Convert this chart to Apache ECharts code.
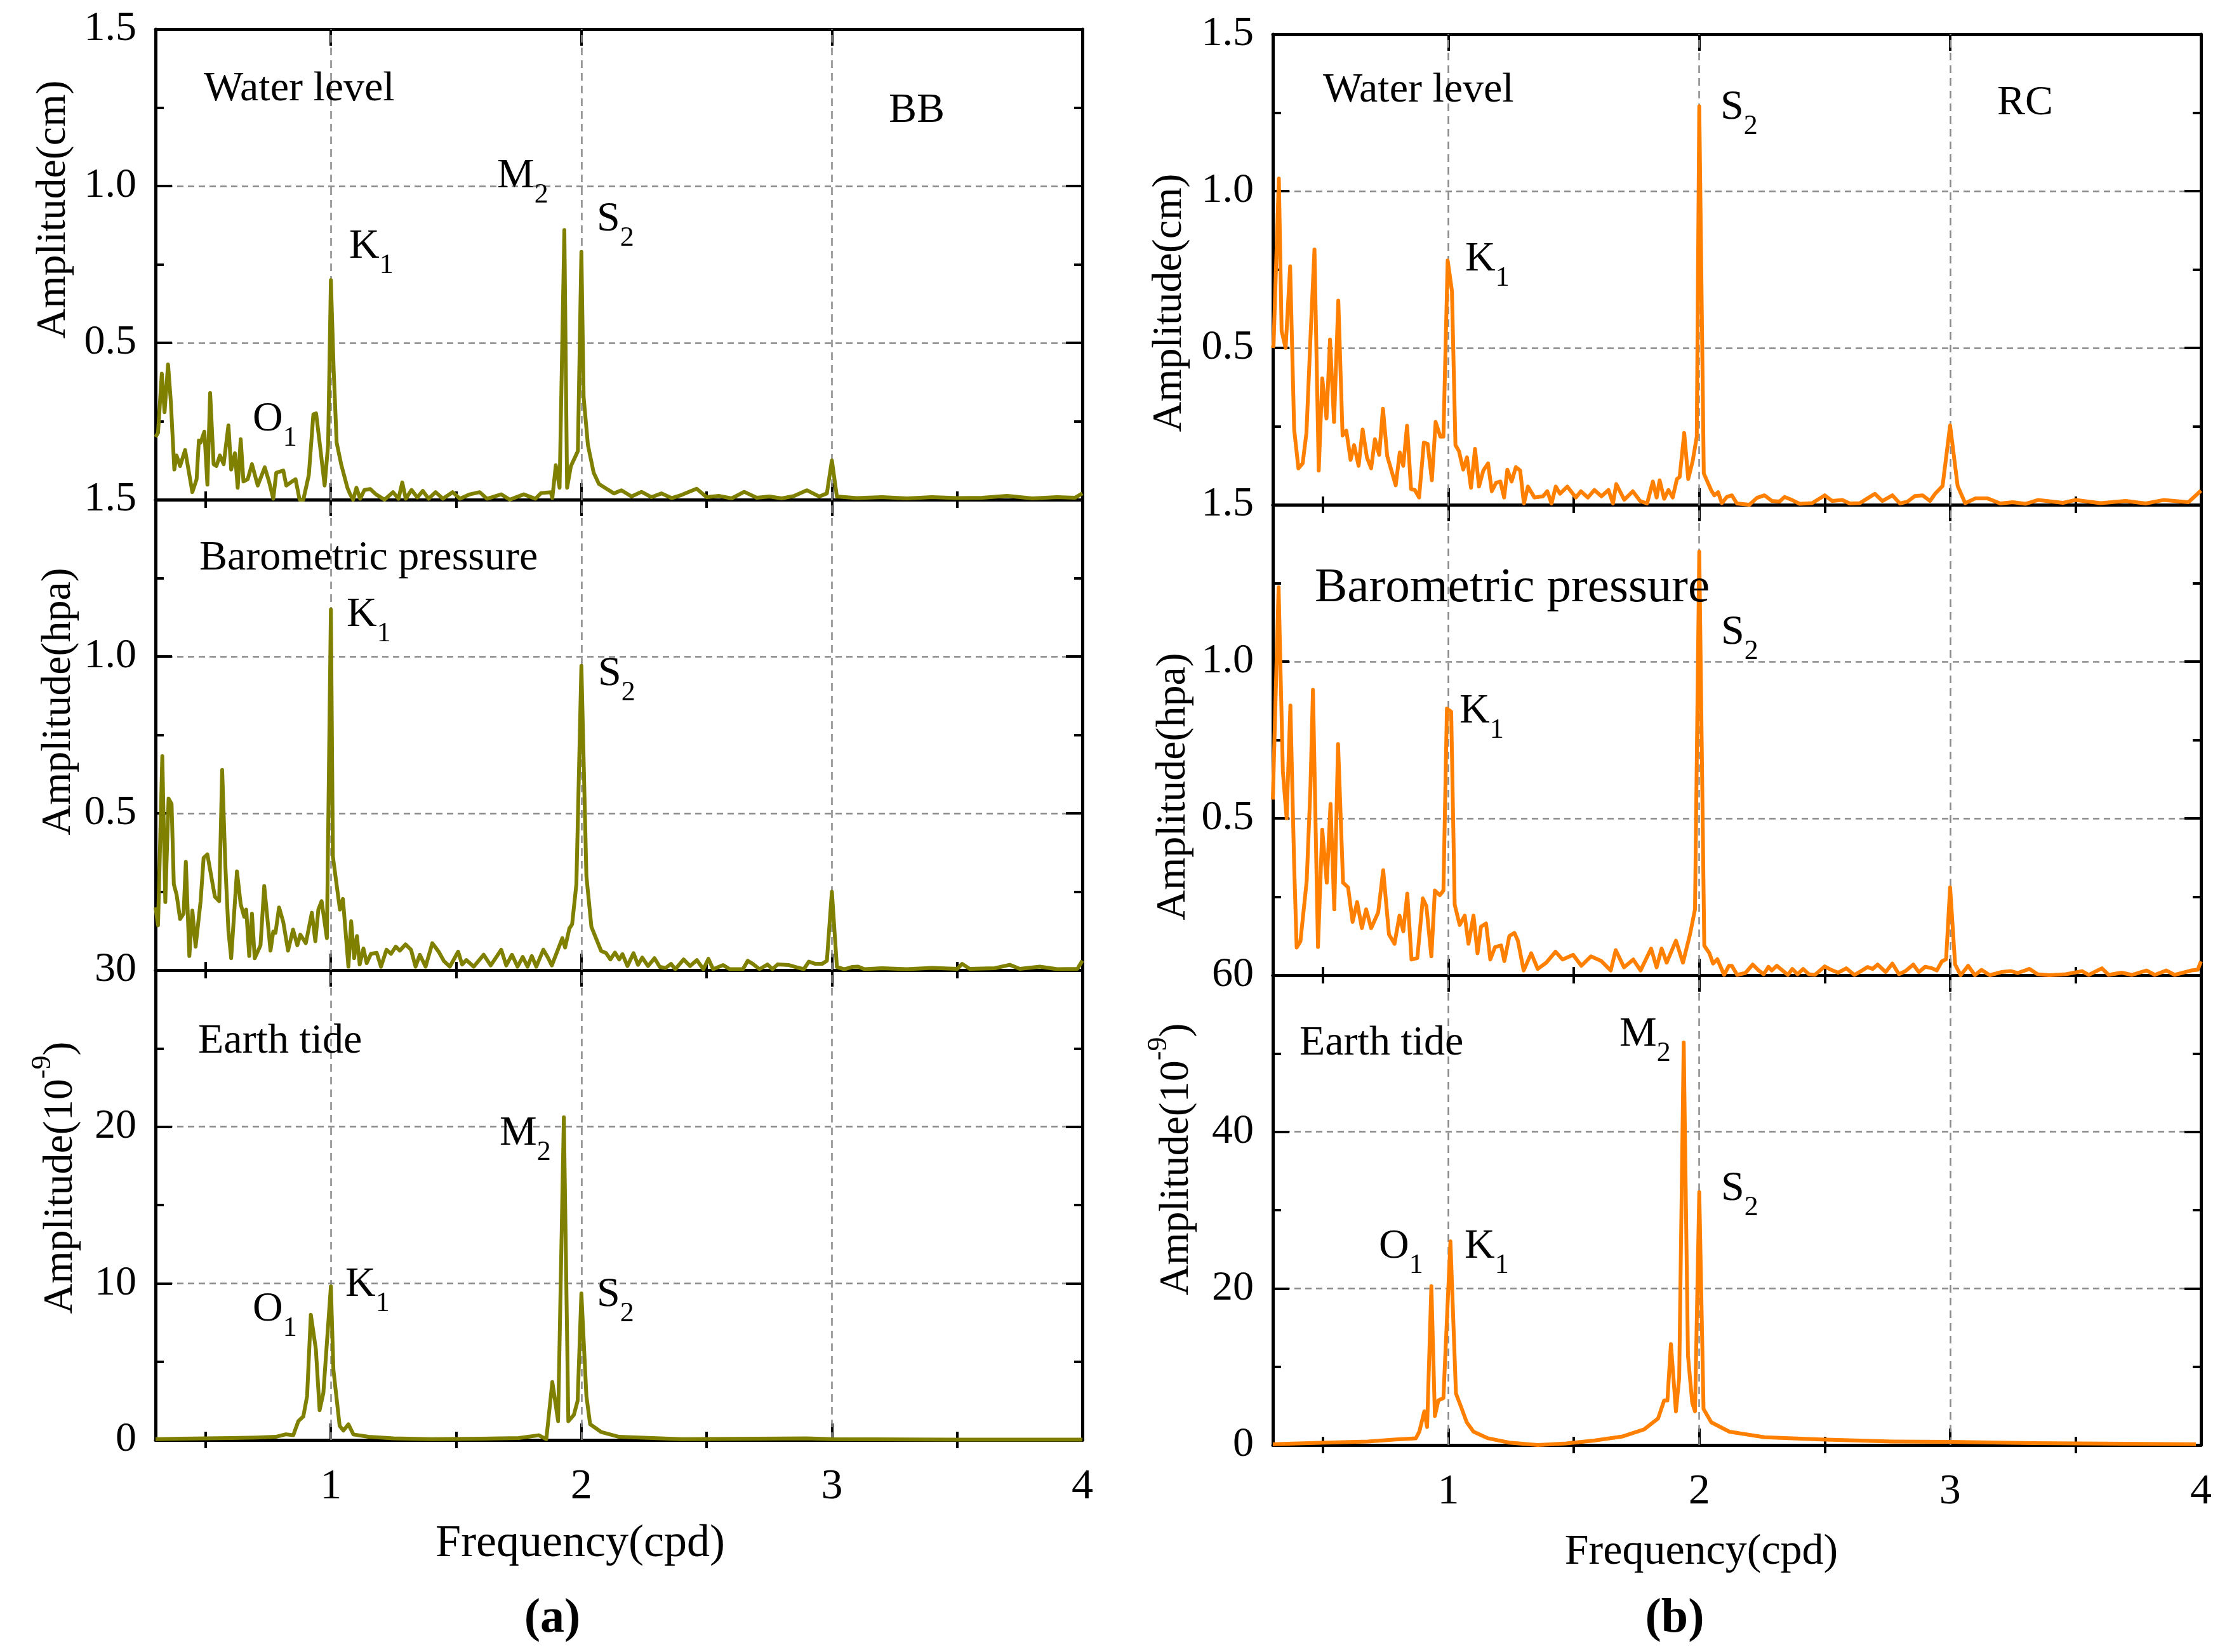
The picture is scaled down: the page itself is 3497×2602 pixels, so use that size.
<!DOCTYPE html>
<html>
<head>
<meta charset="utf-8">
<title>Amplitude spectra BB / RC</title>
<script src="https://cdn.jsdelivr.net/npm/echarts@6.0.0/dist/echarts.min.js"></script>
<style>
  html, body { margin: 0; padding: 0; background: #fff; }
  #chart { width: 3497px; height: 2602px; }
</style>
</head>
<body>
<div id="chart"></div>
<script>
// [frequency (cpd), amplitude]
const bbWater = [
  [0.30,0.20],[0.31,0.213],[0.325,0.402],[0.336,0.279],[0.35,0.431],[0.361,0.313],[0.375,0.096],
  [0.384,0.141],[0.398,0.107],[0.418,0.158],[0.447,0.024],[0.464,0.065],[0.473,0.189],[0.48,0.182],
  [0.495,0.217],[0.507,0.048],[0.518,0.34],[0.532,0.113],[0.543,0.107],[0.557,0.141],[0.572,0.113],
  [0.591,0.237],[0.602,0.096],[0.617,0.148],[0.628,0.038],[0.64,0.193],[0.651,0.058],[0.668,0.065],
  [0.685,0.113],[0.708,0.045],[0.736,0.103],[0.753,0.058],[0.77,0.003],[0.782,0.086],[0.81,0.093],
  [0.822,0.045],[0.845,0.058],[0.859,0.065],[0.875,0.0],[0.89,0.0],[0.912,0.079],[0.93,0.272],
  [0.941,0.275],[0.958,0.162],[0.975,0.045],[0.989,0.175],[1.0,0.70],[1.011,0.416],[1.023,0.182],
  [1.041,0.113],[1.066,0.038],[1.077,0.017],[1.089,0.0],[1.102,0.038],[1.117,0.003],[1.134,0.031],
  [1.157,0.034],[1.18,0.017],[1.214,0.0],[1.248,0.024],[1.27,0.003],[1.285,0.055],[1.299,0.003],
  [1.322,0.031],[1.345,0.007],[1.367,0.028],[1.39,0.003],[1.418,0.024],[1.447,0.003],[1.486,0.024],
  [1.515,0.003],[1.555,0.017],[1.594,0.024],[1.623,0.003],[1.68,0.017],[1.714,0.0],[1.77,0.017],
  [1.816,0.003],[1.839,0.021],[1.878,0.024],[1.884,0.005],[1.898,0.11],[1.913,0.038],[1.932,0.86],
  [1.943,0.038],[1.958,0.107],[1.986,0.155],[2.0,0.79],[2.009,0.327],[2.026,0.175],[2.049,0.086],
  [2.07,0.05],[2.1,0.035],[2.13,0.02],[2.16,0.03],[2.2,0.01],[2.24,0.025],[2.28,0.008],[2.32,0.02],
  [2.36,0.005],[2.4,0.015],[2.46,0.035],[2.5,0.008],[2.55,0.012],[2.6,0.004],[2.65,0.025],[2.7,0.006],
  [2.75,0.01],[2.8,0.004],[2.85,0.012],[2.9,0.03],[2.95,0.01],[2.98,0.02],[3.0,0.125],[3.02,0.01],
  [3.1,0.005],[3.2,0.008],[3.3,0.004],[3.4,0.008],[3.5,0.005],[3.6,0.006],[3.7,0.012],[3.8,0.004],
  [3.9,0.008],[3.97,0.006],[4.0,0.02]
];
const bbBaro = [
  [0.30,0.2],[0.31,0.143],[0.327,0.682],[0.339,0.217],[0.352,0.547],[0.364,0.53],[0.373,0.274],
  [0.384,0.241],[0.398,0.163],[0.412,0.18],[0.421,0.345],[0.435,0.045],[0.447,0.19],[0.46,0.075],
  [0.48,0.22],[0.492,0.358],[0.507,0.369],[0.537,0.234],[0.554,0.22],[0.566,0.638],[0.579,0.328],
  [0.591,0.126],[0.602,0.038],[0.625,0.315],[0.64,0.21],[0.654,0.17],[0.662,0.193],[0.674,0.045],
  [0.685,0.18],[0.696,0.038],[0.719,0.079],[0.734,0.268],[0.759,0.062],[0.77,0.123],[0.779,0.119],
  [0.793,0.2],[0.81,0.153],[0.829,0.062],[0.849,0.129],[0.866,0.079],[0.878,0.113],[0.9,0.086],
  [0.924,0.183],[0.938,0.092],[0.95,0.193],[0.963,0.22],[0.984,0.102],[1.0,1.15],[1.008,0.362],
  [1.036,0.193],[1.048,0.227],[1.07,0.011],[1.081,0.156],[1.093,0.038],[1.104,0.109],[1.115,0.018],
  [1.13,0.069],[1.143,0.022],[1.16,0.052],[1.183,0.055],[1.2,0.011],[1.222,0.065],[1.24,0.052],
  [1.259,0.075],[1.275,0.062],[1.298,0.082],[1.32,0.065],[1.338,0.011],[1.355,0.049],[1.378,0.011],
  [1.405,0.086],[1.43,0.059],[1.452,0.028],[1.475,0.011],[1.508,0.059],[1.524,0.018],[1.541,0.032],
  [1.57,0.011],[1.61,0.049],[1.638,0.015],[1.68,0.065],[1.7,0.015],[1.723,0.049],[1.745,0.011],
  [1.766,0.042],[1.785,0.011],[1.802,0.045],[1.82,0.011],[1.848,0.065],[1.865,0.042],[1.882,0.015],
  [1.924,0.102],[1.935,0.072],[1.952,0.133],[1.963,0.146],[1.98,0.274],[2.0,0.97],[2.02,0.3],
  [2.04,0.138],[2.079,0.061],[2.099,0.054],[2.116,0.034],[2.134,0.056],[2.151,0.034],[2.164,0.051],
  [2.184,0.013],[2.208,0.054],[2.226,0.017],[2.243,0.04],[2.266,0.013],[2.292,0.038],[2.313,0.01],
  [2.336,0.007],[2.358,0.02],[2.375,0.003],[2.408,0.034],[2.434,0.013],[2.461,0.032],[2.487,0.003],
  [2.507,0.036],[2.526,0.003],[2.566,0.016],[2.592,0.003],[2.645,0.003],[2.664,0.03],[2.684,0.02],
  [2.711,0.003],[2.743,0.018],[2.763,0.003],[2.783,0.018],[2.829,0.016],[2.855,0.01],[2.888,0.003],
  [2.908,0.027],[2.934,0.02],[2.961,0.02],[2.98,0.03],[3.0,0.25],[3.02,0.01],[3.05,0.003],
  [3.08,0.01],[3.105,0.011],[3.13,0.003],[3.2,0.006],[3.3,0.003],[3.4,0.007],[3.5,0.004],
  [3.52,0.02],[3.55,0.004],[3.65,0.006],[3.71,0.017],[3.75,0.004],[3.83,0.011],[3.9,0.003],
  [3.98,0.004],[4.0,0.03]
];
const bbTide = [
  [0.30,0.05],[0.4,0.08],[0.5,0.1],[0.6,0.12],[0.7,0.15],[0.78,0.2],[0.82,0.36],[0.85,0.3],
  [0.87,1.2],[0.89,1.5],[0.905,2.8],[0.92,8.0],[0.94,5.8],[0.955,1.9],[0.97,3.0],[1.0,9.8],
  [1.01,4.5],[1.035,0.9],[1.05,0.6],[1.07,1.0],[1.09,0.35],[1.15,0.2],[1.25,0.1],[1.4,0.05],
  [1.6,0.08],[1.75,0.12],[1.83,0.3],[1.86,0.05],[1.884,3.7],[1.907,1.2],[1.93,20.6],[1.948,1.2],
  [1.97,1.6],[1.985,2.5],[2.0,9.35],[2.02,2.8],[2.035,1.0],[2.08,0.5],[2.15,0.2],[2.4,0.05],
  [2.9,0.1],[3.0,0.05],[3.5,0.02],[4.0,0.02]
];
const rcWater = [
  [0.30,0.50],[0.303,0.512],[0.324,1.04],[0.335,0.554],[0.351,0.5],[0.369,0.76],[0.385,0.24],
  [0.402,0.116],[0.419,0.132],[0.434,0.229],[0.451,0.55],[0.466,0.814],[0.483,0.109],[0.497,0.403],
  [0.514,0.275],[0.528,0.527],[0.544,0.264],[0.561,0.651],[0.578,0.221],[0.593,0.236],[0.61,0.143],
  [0.624,0.19],[0.642,0.124],[0.658,0.24],[0.675,0.151],[0.692,0.116],[0.707,0.209],[0.724,0.159],
  [0.739,0.306],[0.756,0.155],[0.79,0.062],[0.806,0.167],[0.82,0.124],[0.835,0.252],[0.851,0.05],
  [0.866,0.047],[0.883,0.023],[0.902,0.198],[0.917,0.194],[0.934,0.078],[0.949,0.264],[0.968,0.217],
  [0.98,0.217],[0.997,0.779],[1.014,0.682],[1.028,0.19],[1.042,0.171],[1.059,0.112],[1.074,0.151],
  [1.09,0.054],[1.106,0.178],[1.122,0.058],[1.139,0.109],[1.158,0.132],[1.173,0.043],[1.19,0.07],
  [1.207,0.074],[1.222,0.023],[1.235,0.112],[1.252,0.074],[1.269,0.12],[1.286,0.109],[1.301,0.004],
  [1.317,0.058],[1.343,0.023],[1.377,0.027],[1.394,0.043],[1.411,0.004],[1.428,0.058],[1.445,0.035],
  [1.474,0.058],[1.508,0.023],[1.528,0.043],[1.556,0.023],[1.582,0.047],[1.61,0.027],[1.638,0.047],
  [1.656,0.004],[1.669,0.066],[1.701,0.016],[1.735,0.043],[1.764,0.012],[1.792,0.004],[1.815,0.074],
  [1.83,0.023],[1.842,0.078],[1.86,0.019],[1.877,0.047],[1.894,0.023],[1.911,0.082],[1.922,0.089],
  [1.94,0.229],[1.956,0.082],[1.974,0.14],[1.99,0.217],[2.0,1.27],[2.018,0.1],[2.047,0.047],
  [2.06,0.03],[2.075,0.04],[2.09,0.005],[2.11,0.025],[2.13,0.03],[2.15,0.004],[2.2,0.0],
  [2.23,0.022],[2.26,0.03],[2.29,0.012],[2.32,0.01],[2.34,0.025],[2.37,0.015],[2.4,0.003],
  [2.45,0.005],[2.5,0.03],[2.53,0.012],[2.57,0.015],[2.6,0.004],[2.64,0.005],[2.67,0.02],
  [2.7,0.035],[2.73,0.012],[2.77,0.03],[2.8,0.004],[2.83,0.01],[2.86,0.028],[2.89,0.03],
  [2.92,0.012],[2.94,0.035],[2.97,0.06],[3.0,0.253],[3.03,0.06],[3.06,0.005],[3.1,0.02],
  [3.15,0.02],[3.2,0.004],[3.25,0.008],[3.3,0.003],[3.35,0.015],[3.45,0.006],[3.5,0.015],
  [3.6,0.005],[3.7,0.012],[3.78,0.004],[3.85,0.015],[3.95,0.008],[4.0,0.045]
];
const rcBaro = [
  [0.30,0.56],[0.323,1.237],[0.34,0.65],[0.355,0.5],[0.37,0.86],[0.385,0.35],[0.395,0.088],
  [0.41,0.108],[0.435,0.3],[0.45,0.6],[0.46,0.91],[0.48,0.09],[0.497,0.464],[0.515,0.295],
  [0.53,0.546],[0.545,0.21],[0.56,0.737],[0.58,0.295],[0.6,0.28],[0.618,0.17],[0.636,0.233],
  [0.655,0.15],[0.672,0.21],[0.692,0.15],[0.72,0.2],[0.74,0.335],[0.763,0.13],[0.785,0.1],
  [0.805,0.19],[0.82,0.14],[0.836,0.26],[0.853,0.05],[0.876,0.055],[0.898,0.245],[0.912,0.22],
  [0.932,0.06],[0.946,0.27],[0.966,0.255],[0.98,0.27],[0.994,0.85],[1.011,0.84],[1.025,0.225],
  [1.045,0.16],[1.065,0.19],[1.08,0.1],[1.1,0.19],[1.116,0.07],[1.13,0.155],[1.15,0.165],
  [1.167,0.05],[1.186,0.09],[1.21,0.095],[1.223,0.045],[1.243,0.125],[1.263,0.135],[1.277,0.11],
  [1.3,0.015],[1.33,0.07],[1.356,0.02],[1.39,0.04],[1.427,0.075],[1.455,0.05],[1.497,0.065],
  [1.53,0.03],[1.568,0.06],[1.61,0.045],[1.647,0.015],[1.667,0.08],[1.7,0.025],[1.737,0.05],
  [1.766,0.015],[1.808,0.085],[1.83,0.025],[1.85,0.085],[1.87,0.04],[1.907,0.11],[1.935,0.04],
  [1.963,0.13],[1.983,0.21],[2.0,1.35],[2.02,0.094],[2.04,0.071],[2.055,0.037],[2.072,0.051],
  [2.099,0.001],[2.118,0.03],[2.13,0.03],[2.151,0.001],[2.184,0.007],[2.213,0.034],[2.237,0.015],
  [2.257,0.003],[2.276,0.027],[2.289,0.015],[2.309,0.03],[2.329,0.017],[2.353,0.001],[2.371,0.02],
  [2.392,0.003],[2.414,0.02],[2.437,0.003],[2.461,0.001],[2.5,0.028],[2.526,0.017],[2.553,0.008],
  [2.586,0.022],[2.618,0.001],[2.645,0.013],[2.671,0.026],[2.691,0.02],[2.711,0.034],[2.743,0.01],
  [2.77,0.037],[2.796,0.003],[2.822,0.013],[2.853,0.034],[2.875,0.01],[2.901,0.027],[2.928,0.022],
  [2.947,0.015],[2.967,0.044],[2.984,0.051],[3.0,0.28],[3.02,0.034],[3.042,0.0],[3.072,0.03],
  [3.099,0.0],[3.125,0.017],[3.158,0.0],[3.204,0.01],[3.243,0.013],[3.27,0.007],[3.316,0.02],
  [3.349,0.003],[3.395,0.0],[3.461,0.003],[3.526,0.013],[3.553,0.001],[3.605,0.022],[3.632,0.001],
  [3.684,0.008],[3.724,0.001],[3.783,0.015],[3.816,0.001],[3.862,0.015],[3.895,0.001],[3.961,0.015],
  [3.987,0.017],[4.0,0.044]
];
const rcTide = [
  [0.30,0.1],[0.4,0.2],[0.508,0.3],[0.678,0.45],[0.79,0.7],[0.87,0.86],[0.884,1.7],[0.904,4.3],
  [0.915,2.3],[0.932,20.3],[0.946,3.7],[0.96,5.7],[0.98,6.0],[1.008,26.0],[1.03,6.6],[1.05,4.9],
  [1.073,2.9],[1.1,1.7],[1.158,0.86],[1.243,0.3],[1.356,0.0],[1.47,0.2],[1.58,0.57],[1.695,1.1],
  [1.78,2.0],[1.836,3.4],[1.86,5.7],[1.873,5.7],[1.887,12.9],[1.907,4.3],[1.92,8.6],[1.938,51.4],
  [1.955,11.4],[1.972,5.4],[1.983,4.3],[2.0,32.3],[2.017,4.6],[2.048,2.9],[2.12,1.7],[2.26,1.0],
  [2.486,0.7],[2.77,0.45],[3.0,0.4],[3.33,0.25],[3.98,0.1]
];

const xMajor = [1, 2, 3, 4];
const xMinor = [0.5, 1.5, 2.5, 3.5];
const xGrid = [1, 2, 3];

const FONT = '"Liberation Serif", "Times New Roman", serif';
const OLIVE = '#808000';
const ORANGE = '#ff8000';

const panels = [
  { data: bbWater, color: OLIVE,  grid: { left: 245,  top: 46,   width: 1460, height: 741 }, ymax: 1.5, step: 0.5, dec: 1, hideMin: true,  xLabels: false },
  { data: bbBaro,  color: OLIVE,  grid: { left: 245,  top: 787,  width: 1460, height: 741 }, ymax: 1.5, step: 0.5, dec: 1, hideMin: true,  xLabels: false },
  { data: bbTide,  color: OLIVE,  grid: { left: 245,  top: 1528, width: 1460, height: 740 }, ymax: 30,  step: 10,  dec: 0, hideMin: false, xLabels: true },
  { data: rcWater, color: ORANGE, grid: { left: 2005, top: 54,   width: 1462, height: 741 }, ymax: 1.5, step: 0.5, dec: 1, hideMin: true,  xLabels: false },
  { data: rcBaro,  color: ORANGE, grid: { left: 2005, top: 795,  width: 1462, height: 741 }, ymax: 1.5, step: 0.5, dec: 1, hideMin: true,  xLabels: false },
  { data: rcTide,  color: ORANGE, grid: { left: 2005, top: 1536, width: 1462, height: 740 }, ymax: 60,  step: 20,  dec: 0, hideMin: false, xLabels: true }
];

const black = { color: '#000', width: 5 };
const tickStyle = { color: '#000', width: 4 };
const gridDash = { color: '#8a8a8a', width: 2.5, type: [10, 7] };

const grids = [], xAxes = [], yAxes = [], series = [];

panels.forEach((p, i) => {
  grids.push(Object.assign({ containLabel: false, show: false }, p.grid));

  // bottom + top x axes, each split into major and minor tick sets
  ['bottom', 'top'].forEach(pos => {
    xAxes.push({
      gridIndex: i, type: 'value', min: 0.3, max: 4, position: pos,
      axisLine: { show: true, onZero: false, lineStyle: black },
      axisTick: { show: true, inside: true, length: 26, customValues: xMajor, lineStyle: tickStyle },
      axisLabel: {
        show: pos === 'bottom' && p.xLabels, customValues: xMajor, margin: 40,
        fontFamily: FONT, fontSize: 68, color: '#000'
      },
      splitLine: { show: false }
    });
    xAxes.push({
      gridIndex: i, type: 'value', min: 0.3, max: 4, position: pos,
      axisLine: { show: false },
      axisTick: { show: true, inside: true, length: 13, customValues: xMinor, lineStyle: tickStyle },
      axisLabel: { show: false },
      splitLine: { show: false }
    });
  });

  ['left', 'right'].forEach(pos => {
    yAxes.push({
      gridIndex: i, type: 'value', min: 0, max: p.ymax, interval: p.step, position: pos,
      axisLine: { show: true, onZero: false, lineStyle: black },
      axisTick: { show: true, inside: true, length: 26, lineStyle: tickStyle },
      minorTick: { show: true, splitNumber: 2, length: 13, lineStyle: tickStyle },
      axisLabel: {
        show: pos === 'left', showMinLabel: !p.hideMin, margin: 30,
        fontFamily: FONT, fontSize: 66, color: '#000',
        formatter: v => v.toFixed(p.dec)
      },
      splitLine: { show: pos === 'left', showMinLine: false, showMaxLine: false, lineStyle: gridDash },
      minorSplitLine: { show: false }
    });
  });

  series.push({
    type: 'line', xAxisIndex: 4 * i, yAxisIndex: 2 * i,
    data: p.data, showSymbol: false, symbol: 'none',
    lineStyle: { color: p.color, width: 6, join: 'round' },
    itemStyle: { color: p.color },
    z: 3,
    markLine: {
      silent: true, symbol: 'none', animation: false, z: 1,
      label: { show: false },
      lineStyle: { color: '#8a8a8a', width: 2.5, type: [12, 8] },
      emphasis: { disabled: true },
      data: xGrid.map(v => ({ xAxis: v }))
    }
  });
});

// text helpers
function plain(text, x, y, opts) {
  return {
    type: 'text', x, y, z: 10,
    style: Object.assign({
      text, fill: '#000', fontFamily: FONT, fontSize: 66,
      align: 'left', verticalAlign: 'middle'
    }, opts || {})
  };
}
function tide(main, sub, x, y) {
  return {
    type: 'text', x, y, z: 10,
    style: {
      text: '{m|' + main + '}{s|' + sub + '}',
      align: 'left', verticalAlign: 'middle',
      rich: {
        m: { fontFamily: FONT, fontSize: 66, lineHeight: 84, verticalAlign: 'top', fill: '#000' },
        s: { fontFamily: FONT, fontSize: 44, lineHeight: 44, verticalAlign: 'bottom', fill: '#000' }
      }
    }
  };
}
function yTitle(text, sup, x, y) {
  const t = sup ? '{m|' + text + '}{p|' + sup + '}{m|)}' : '{m|' + text + '}';
  return {
    type: 'text', x, y, rotation: Math.PI / 2, z: 10,
    style: {
      text: t, align: 'center', verticalAlign: 'middle',
      rich: {
        m: { fontFamily: FONT, fontSize: 66, lineHeight: 84, verticalAlign: 'bottom', fill: '#000' },
        p: { fontFamily: FONT, fontSize: 44, lineHeight: 44, verticalAlign: 'top', fill: '#000' }
      }
    }
  };
}

const graphics = [
  // panel (a)
  plain('Water level', 321, 141),
  plain('BB', 1444, 175, { align: 'center' }),
  tide('O', '1', 398, 670), tide('K', '1', 550, 398), tide('M', '2', 783, 287), tide('S', '2', 940, 355),
  plain('Barometric pressure', 314, 880),
  tide('K', '1', 546, 978), tide('S', '2', 942, 1071),
  plain('Earth tide', 312, 1641),
  tide('O', '1', 398, 2072), tide('K', '1', 544, 2033), tide('M', '2', 787, 1795), tide('S', '2', 940, 2049),
  yTitle('Amplitude(cm)', null, 76, 330),
  yTitle('Amplitude(hpa)', null, 84, 1105),
  yTitle('Amplitude(10', '-9', 87, 1855),
  plain('Frequency(cpd)', 914, 2432, { align: 'center', fontSize: 72 }),
  plain('(a)', 870, 2550, { align: 'center', fontSize: 76, fontWeight: 'bold' }),
  // panel (b)
  plain('Water level', 2084, 143),
  plain('RC', 3190, 163, { align: 'center' }),
  tide('K', '1', 2308, 418), tide('S', '2', 2710, 179),
  plain('Barometric pressure', 2071, 927, { fontSize: 77 }),
  tide('K', '1', 2299, 1130), tide('S', '2', 2711, 1006),
  plain('Earth tide', 2047, 1644),
  tide('O', '1', 2172, 1973), tide('K', '1', 2307, 1973), tide('M', '2', 2551, 1639), tide('S', '2', 2711, 1882),
  yTitle('Amplitude(cm)', null, 1834, 477),
  yTitle('Amplitude(hpa)', null, 1840, 1239),
  yTitle('Amplitude(10', '-9', 1845, 1826),
  plain('Frequency(cpd)', 2680, 2445, { align: 'center', fontSize: 68 }),
  plain('(b)', 2638, 2550, { align: 'center', fontSize: 76, fontWeight: 'bold' })
];

const chart = echarts.init(document.getElementById('chart'));
chart.setOption({
  backgroundColor: '#fff',
  animation: false,
  grid: grids,
  xAxis: xAxes,
  yAxis: yAxes,
  series: series,
  graphic: graphics
});
</script>
</body>
</html>
